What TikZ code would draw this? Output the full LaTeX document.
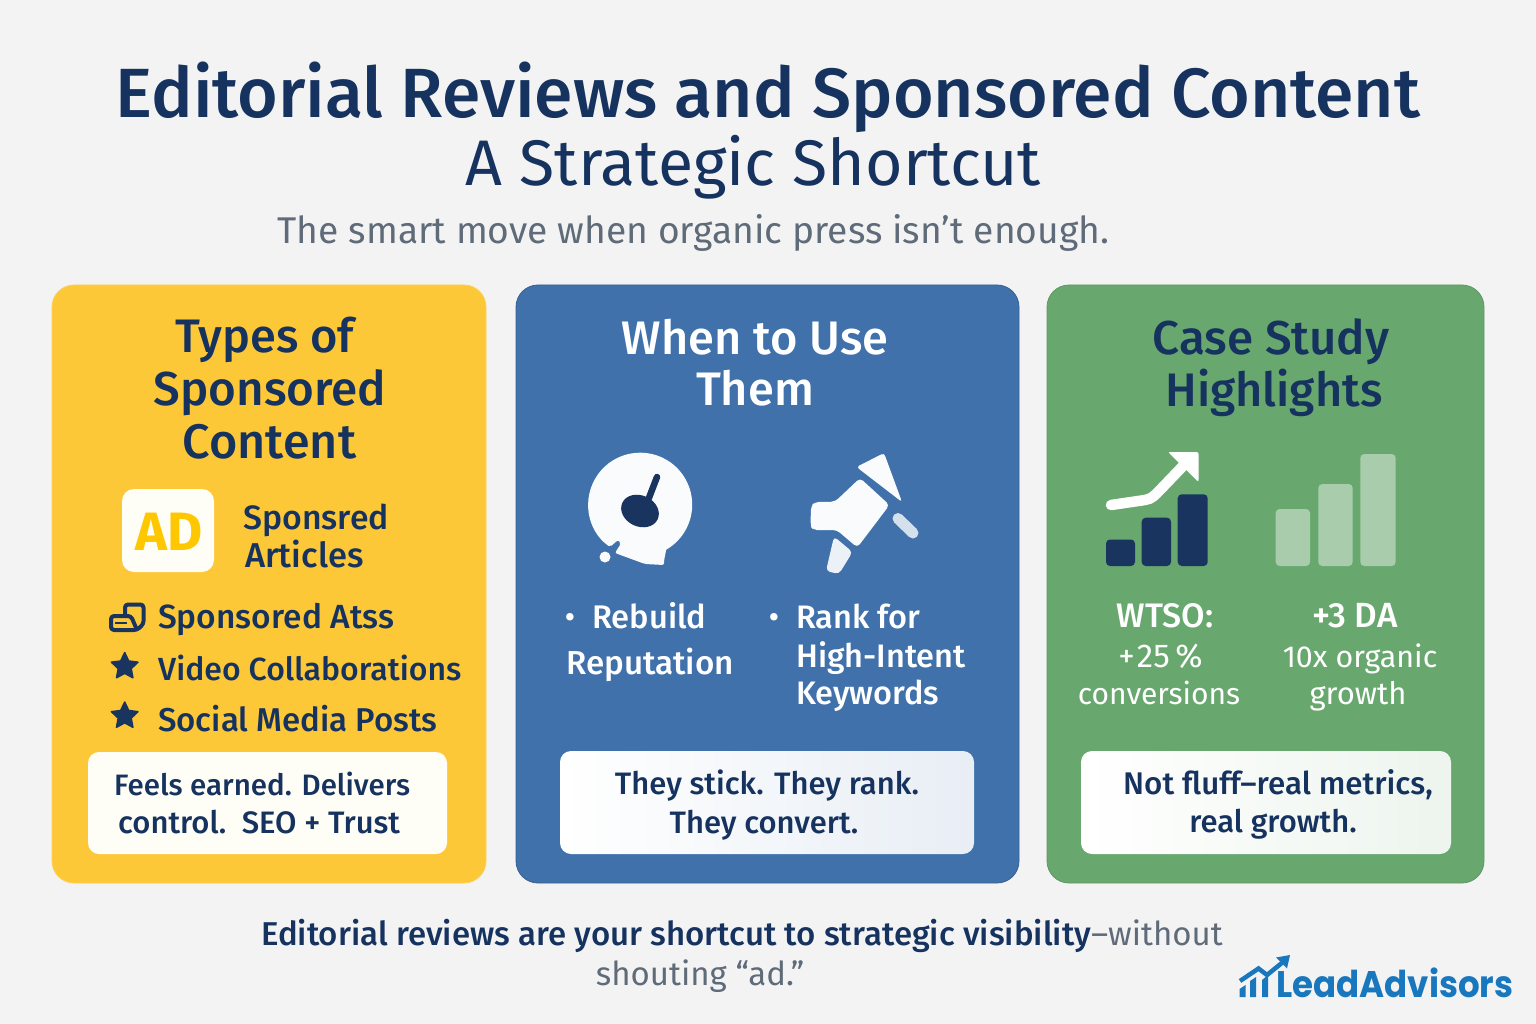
\documentclass[tikz,border=0pt]{standalone}
\usepackage{fontspec}
\setmainfont{Fira Sans}
\newfontfamily\med{Fira Sans Medium}
\newfontfamily\logofont{Poppins}
\usetikzlibrary{shapes.geometric}
\usetikzlibrary{shadings}
\newcommand\fs[1]{\fontsize{#1}{#1}\selectfont}
\definecolor{bgc}{HTML}{F3F3F4}
\definecolor{navy}{HTML}{16325F}
\definecolor{greyt}{HTML}{5F6B78}
\definecolor{yel}{HTML}{FDC838}
\definecolor{blu}{HTML}{4071AB}
\definecolor{grn}{HTML}{68A86E}
\definecolor{dkbar}{HTML}{19345F}
\definecolor{ltbar}{HTML}{A9CDAC}
\definecolor{adyel}{HTML}{FFC700}
\definecolor{logob}{HTML}{1877BD}
\definecolor{cream}{HTML}{FFFEF6}
\tikzset{
 tc/.style={inner sep=0,anchor=base,text=navy},
 tl/.style={inner sep=0,anchor=base west,text=navy},
 panel/.style={rounded corners=22pt,line width=0.8pt},
 callout/.style={rounded corners=11pt},
 dkb/.style={fill=dkbar,rounded corners=4pt},
 ltb/.style={fill=ltbar,rounded corners=4pt},
 starry/.style={star,star points=5,star point ratio=2.05,fill=dkbar,draw=dkbar,line width=1.5pt,line join=round,minimum size=28pt,inner sep=0},
}
\begin{document}
\begin{tikzpicture}[x=1pt,y=-1pt]
\useasboundingbox (0,0) rectangle (1536,1024);
\fill[bgc] (0,0) rectangle (1536,1024);
% titles
\node[tc] (title) at (768,117.5) {\med\fs{69.7}Editorial Reviews and Sponsored Content};
\node[tc] (subtitle) at (753.5,186) {\fs{64.4}A Strategic Shortcut};
\node[tc,text=greyt] (tag) at (693.5,243.5) {\fs{37.2}The smart move when organic press isn’t enough.};
% panels
\filldraw[fill=yel,draw=yel!85!white,panel] (52,285) rectangle (486,883);
\filldraw[fill=blu,draw=blu!85!black,panel] (516,285) rectangle (1019,883);
\filldraw[fill=grn,draw=grn!90!black,panel] (1047,285) rectangle (1484,883);
% panel 1
\node[tc] (p1a) at (265,352.5) {\med\fs{47}Types of};
\node[tc] (p1b) at (270,405) {\med\fs{47.6}Sponsored};
\node[tc] (p1c) at (269.5,458.5) {\med\fs{48.5}Content};
\fill[fill=cream,rounded corners=12pt] (122,489) rectangle (214,572);
\node[tc,text=adyel] (ad) at (169,550) {\bfseries\fs{54}AD};
\node[tl] (sa1) at (243,529) {\med\fs{33.8}Sponsred};
\node[tl] (sa2) at (245,567.5) {\med\fs{34.5}Articles};
\draw[dkbar,line width=4pt,line join=round,rounded corners=3pt] (125,615) -- (125,604.5) -- (143.5,604.5) -- (143.5,624) -- (137,630) -- (111,630) -- (111,616) -- (131,616) -- (137,630);
\draw[dkbar,line width=1.5pt] (115,623) -- (127,623);
\node[tl] (l1) at (158,628.5) {\med\fs{33.5}Sponsored Atss};
\node[starry] (st1) at (124.7,666.5) {};
\node[tl] (l2) at (158,680) {\med\fs{32}Video Collaborations};
\node[starry] (st2) at (124.7,716) {};
\node[tl] (l3) at (158,731) {\med\fs{33}Social Media Posts};
\fill[cream,callout] (88,752) rectangle (447,854);
\node[tl] (c1a) at (114,795) {\med\fs{29.5}Feels earned. Delivers};
\node[tl] (c1b) at (118,833) {\med\fs{31}control.\ \ SEO + Trust};
% panel 2
\node[tc,text=white] (p2a) at (755,354) {\med\fs{47}When to Use};
\node[tc,text=white] (p2b) at (755,405) {\med\fs{47}Them};
\fill[white!97!blu] (610,547) arc[start angle=125.5,end angle=420,radius=52] -- (664,561) [rounded corners=2pt] -- (664,565) -- (645,564) -- (615,553) -- (621,543.5) -- (618,540) -- cycle;
\fill[dkbar,rotate around={-25:(640,511)}] (640,511) ellipse[x radius=19.5,y radius=15.5];
\draw[dkbar,line width=6.5pt,line cap=round] (647,503) -- (657,477);
\fill[white!97!blu] (605,557) circle[radius=5.5];
\fill[white!97!blu,rounded corners=4pt] (811,506) -- (815,502) -- (835,501.7) -- (860,478) -- (889.5,505) -- (857.3,547.5) -- (836.7,530) -- (813,530) -- (810.5,526) -- cycle;
\fill[white!97!blu,rounded corners=3pt] (856.5,467) -- (884,453) -- (902,502) -- cycle;
\fill[white!90!blu,rounded corners=4pt] (834,536.5) -- (852.5,552) -- (839,574) -- (826,571) -- cycle;
\draw[white!78!blu,line width=11pt,line cap=round] (898,518.5) -- (913,533);
\node[tc,text=white] (r0) at (570,628) {\fs{33}•};
\node[tl,text=white] (r1) at (592,628) {\med\fs{32.7}Rebuild};
\node[tl,text=white] (r2) at (566,674) {\med\fs{33.2}Reputation};
\node[tc,text=white] (k0) at (774,628) {\fs{33}•};
\node[tl,text=white] (k1) at (796,628) {\med\fs{32.5}Rank for};
\node[tl,text=white] (k2) at (796,667) {\med\fs{32.5}High-Intent};
\node[tl,text=white] (k3) at (796,704.5) {\med\fs{32.5}Keywords};
\shade[left color=white,right color=white!88!blu,callout] (560,751) rectangle (974,854);
\node[tc] (c2a) at (767,794) {\med\fs{31}They stick. They rank.};
\node[tc] (c2b) at (764,833) {\med\fs{31}They convert.};
% panel 3
\node[tc] (p3a) at (1271,354) {\med\fs{47.5}Case Study};
\node[tc] (p3b) at (1274,406) {\med\fs{47}Highlights};
\fill[dkb] (1106,539.5) rectangle (1135,566);
\fill[dkb] (1141.7,517.7) rectangle (1171,566);
\fill[dkb] (1177.7,494.3) rectangle (1207.7,566);
\draw[white,line width=10.5pt,line cap=round] (1111,505) -- (1145,500) .. controls (1152,499) and (1155,495) .. (1160,490) -- (1183,466);
\fill[white,rounded corners=2pt] (1168,452) -- (1198.5,452) -- (1198.5,482) -- cycle;
\fill[ltb] (1275.7,509) rectangle (1310,566);
\fill[ltb] (1318.3,484) rectangle (1352.7,566);
\fill[ltb] (1360.3,454) rectangle (1395.7,566);
\node[tc,text=white] (w1) at (1165,627) {\med\fs{34}WTSO:};
\node[tc,text=white] (w2) at (1160.5,667) {\fs{33}+\kern2pt 25\,\%};
\node[tc,text=white] (w3) at (1159,704) {\fs{30}conversions};
\node[tc,text=white] (d1) at (1355,627) {\med\fs{35}+3 DA};
\node[tc,text=white] (d2) at (1360,667) {\fs{30.4}10x organic};
\node[tc,text=white] (d3) at (1358,704) {\fs{31}growth};
\shade[left color=white,right color=white!88!grn,callout] (1081,751) rectangle (1451,854);
\node[tl] (c3a) at (1123,794) {\med\fs{31.3}Not fluff–real metrics,};
\node[tc] (c3b) at (1273,832) {\med\fs{31}real growth.};
% footer
\node[tl] (f1) at (261,945) {\fs{33}\med Editorial reviews are your shortcut to strategic visibility\textcolor{greyt}{\rmfamily–without}};
\node[tc,text=greyt] (f2) at (700,985) {\fs{33}shouting “ad.”};
% logo
\fill[logob] (1239.5,989) -- (1245.5,985) -- (1245.5,997) -- (1239.5,997) -- cycle;
\fill[logob] (1250,981) -- (1256,977) -- (1256,997) -- (1250,997) -- cycle;
\fill[logob] (1262,980) -- (1268,975) -- (1268,997) -- (1262,997) -- cycle;
\draw[logob,line width=4.5pt] (1240,981) -- (1258.5,968.5) -- (1267,975) -- (1283,962);
\fill[logob] (1276,957.5) -- (1290,955) -- (1287,968.5) -- cycle;
\node[tl,text=logob] (logo) at (1276,997) {\logofont\bfseries\fs{37}\scalebox{0.92}[1]{LeadAdvisors}};
\end{tikzpicture}
\end{document}
